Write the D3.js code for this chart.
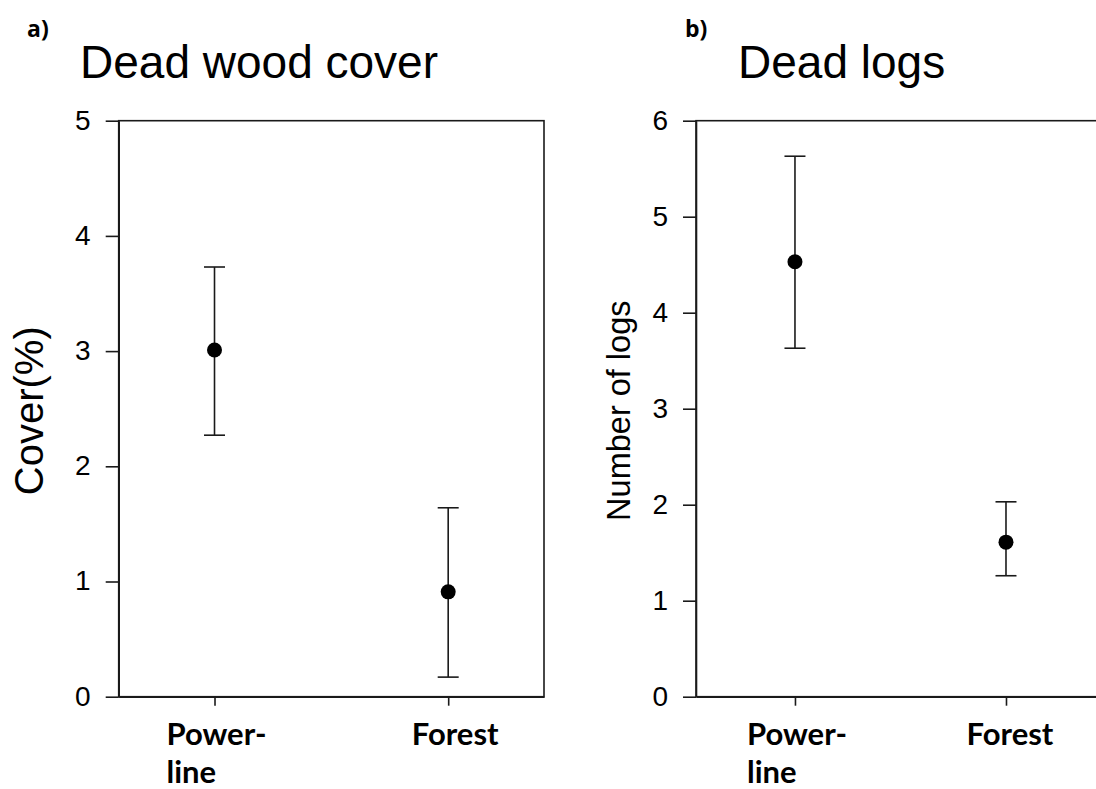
<!DOCTYPE html>
<html>
<head>
<meta charset="utf-8">
<script src="https://cdn.jsdelivr.net/npm/d3@7"></script>
<style>
  html, body { margin: 0; padding: 0; background: #fff; }
  svg { display: block; }
</style>
</head>
<body>
<svg id="chart" width="1096" height="789"></svg>
<script>
// ---- data ----
const categories = ["Power-line", "Forest"];
const categoryLines = [["Power-", "line"], ["Forest"]];
const coverMean  = [3.01, 0.91];
const coverLower = [2.27, 0.17];
const coverUpper = [3.73, 1.64];
const logsMean  = [4.53, 1.61];
const logsLower = [3.63, 1.26];
const logsUpper = [5.63, 2.03];
const coverTicks = [0, 1, 2, 3, 4, 5];
const logsTicks  = [0, 1, 2, 3, 4, 5, 6];

const svg = d3.select("#chart");
const ink = "#1a1a1a";

const panels = [
  { tag: "a)", title: "Dead wood cover", ylabel: "Cover(%)", ylabelSize: 40, ylabelX: 43,
    left: 118.7, right: 544, xDomain: [0.59, 2.41], yMax: 5, ticks: coverTicks,
    mean: coverMean, lower: coverLower, upper: coverUpper,
    tagX: 27, titleX: 80, labelOffsets: [2, 7] },
  { tag: "b)", title: "Dead logs", ylabel: "Number of logs", ylabelSize: 32.5, ylabelX: 630,
    left: 696, right: 1111.5, xDomain: [0.531, 2.5], yMax: 6, ticks: logsTicks,
    mean: logsMean, lower: logsLower, upper: logsUpper,
    tagX: 685, titleX: 738, labelOffsets: [2, 4] }
];

const plotTop = 120.7, plotBottom = 696.7;

panels.forEach(p => {
  const g = svg.append("g");
  const x = d3.scaleLinear().domain(p.xDomain).range([p.left, p.right]);
  const y = d3.scaleLinear().domain([0, p.yMax]).range([plotBottom, plotTop]);

  // frame
  g.append("rect")
    .attr("x", p.left).attr("y", plotTop)
    .attr("width", p.right - p.left).attr("height", plotBottom - plotTop)
    .attr("fill", "none").attr("stroke", ink).attr("stroke-width", 1.6);

  // y axis
  const ya = g.append("g").attr("transform", `translate(${p.left},0)`)
    .call(d3.axisLeft(y).tickValues(p.ticks).tickSize(13).tickSizeOuter(0).tickPadding(15).tickFormat(d3.format("d")));
  ya.select(".domain").attr("stroke", ink).attr("stroke-width", 1.6);
  ya.selectAll(".tick line").attr("stroke", ink).attr("stroke-width", 1.6);
  ya.selectAll(".tick text")
    .attr("font-family", "'Liberation Sans', Arial, sans-serif")
    .attr("font-size", 28).attr("fill", "#000").attr("dy", "0.3em");

  // x axis
  const xa = g.append("g").attr("transform", `translate(0,${plotBottom})`)
    .call(d3.axisBottom(x).tickValues([1, 2]).tickSize(9).tickSizeOuter(0).tickFormat(""));
  xa.select(".domain").attr("stroke", ink).attr("stroke-width", 1.6);
  xa.selectAll(".tick line").attr("stroke", ink).attr("stroke-width", 1.6);

  // category labels (bold, multi-line, left aligned block)
  categoryLines.forEach((lines, i) => {
    const cx = x(i + 1) + p.labelOffsets[i];
    const t = g.append("text")
      .attr("font-family", "Lato, 'Open Sans', sans-serif")
      .attr("font-weight", "bold")
      .attr("font-size", 31)
      .attr("fill", "#000");
    const first = t.append("tspan").attr("x", cx).attr("y", 745).attr("text-anchor", "middle").text(lines[0]);
    if (lines.length > 1) {
      const bb = first.node().getComputedTextLength();
      first.attr("text-anchor", "start").attr("x", cx - bb / 2);
      t.append("tspan").attr("x", cx - bb / 2).attr("y", 783).text(lines[1]);
    }
  });

  // error bars
  const capW = 21;
  const data = categories.map((c, i) => ({ c, i, m: p.mean[i], lo: p.lower[i], hi: p.upper[i] }));
  const eb = g.selectAll(".eb").data(data).enter().append("g");
  eb.append("line")
    .attr("x1", d => x(d.i + 1)).attr("x2", d => x(d.i + 1))
    .attr("y1", d => y(d.lo)).attr("y2", d => y(d.hi))
    .attr("stroke", ink).attr("stroke-width", 1.6);
  eb.append("line")
    .attr("x1", d => x(d.i + 1) - capW / 2).attr("x2", d => x(d.i + 1) + capW / 2)
    .attr("y1", d => y(d.hi)).attr("y2", d => y(d.hi))
    .attr("stroke", ink).attr("stroke-width", 1.6);
  eb.append("line")
    .attr("x1", d => x(d.i + 1) - capW / 2).attr("x2", d => x(d.i + 1) + capW / 2)
    .attr("y1", d => y(d.lo)).attr("y2", d => y(d.lo))
    .attr("stroke", ink).attr("stroke-width", 1.6);
  eb.append("circle")
    .attr("cx", d => x(d.i + 1)).attr("cy", d => y(d.m)).attr("r", 7.5)
    .attr("fill", "#000");

  // y label
  g.append("text")
    .attr("transform", `translate(${p.ylabelX},${(plotTop + plotBottom) / 2 + 2}) rotate(-90)`)
    .attr("text-anchor", "middle")
    .attr("font-family", "'Liberation Sans', Arial, sans-serif")
    .attr("font-size", p.ylabelSize).attr("fill", "#000")
    .text(p.ylabel);

  // title
  g.append("text")
    .attr("x", p.titleX).attr("y", 78)
    .attr("font-family", "'Liberation Sans', Arial, sans-serif")
    .attr("font-size", 46).attr("fill", "#000")
    .text(p.title);

  // panel tag
  g.append("text")
    .attr("x", p.tagX).attr("y", 37)
    .attr("font-family", "'Open Sans', 'Liberation Sans', sans-serif")
    .attr("font-weight", "bold")
    .attr("font-size", 23).attr("fill", "#000")
    .text(p.tag);
});
</script>
</body>
</html>
